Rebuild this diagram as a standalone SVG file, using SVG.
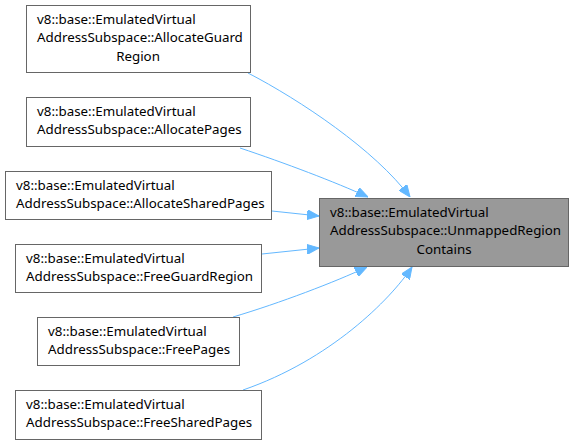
<svg xmlns="http://www.w3.org/2000/svg" width="574" height="445" viewBox="0 0 574 445">
<defs>
<style>
.n rect{fill:#ffffff;stroke:#666666;stroke-width:1}
.c rect{fill:#999999;stroke:#666666;stroke-width:1}
text{font-family:"Noto Sans","DejaVu Sans",sans-serif;font-size:13.33px;fill:#000000}
.e path{fill:none;stroke:#63b8ff;stroke-width:1}
</style>
<marker id="ah" viewBox="0 0 12 10" refX="12" refY="5" markerWidth="12" markerHeight="10" markerUnits="userSpaceOnUse" orient="auto">
<path d="M0,0 L12,5 L0,10 Z" fill="#63b8ff" stroke="#63b8ff" stroke-width="1"/>
</marker>
</defs>
<rect width="574" height="445" fill="#ffffff"/>
<g id="edges" class="e">
<path d="M248,73 C300,100 375,150 410,197" marker-end="url(#ah)"/>
<path d="M240,148 C285,163 335,182 368,197" marker-end="url(#ah)"/>
<path d="M272,211 L319,216" marker-end="url(#ah)"/>
<path d="M262,254 L319,248" marker-end="url(#ah)"/>
<path d="M233,317 C280,303 335,282 367,267" marker-end="url(#ah)"/>
<path d="M243,390 C330,360 390,300 412,267" marker-end="url(#ah)"/>
</g>
<g id="node-target" class="c">
<rect x="319.5" y="198.5" width="249" height="68"/>
<text x="330" y="216.5">v8::base::EmulatedVirtual</text>
<text x="330" y="235">AddressSubspace::UnmappedRegion</text>
<text x="444" y="253.5" text-anchor="middle">Contains</text>
</g>
<g id="node-allocate-guard-region" class="n">
<rect x="26.5" y="5.5" width="224" height="67"/>
<text x="37" y="23.5">v8::base::EmulatedVirtual</text>
<text x="37" y="42">AddressSubspace::AllocateGuard</text>
<text x="138" y="60.5" text-anchor="middle">Region</text>
</g>
<g id="node-allocate-pages" class="n">
<rect x="26.5" y="97.5" width="224" height="49"/>
<text x="37" y="115.5">v8::base::EmulatedVirtual</text>
<text x="37" y="134">AddressSubspace::AllocatePages</text>
</g>
<g id="node-allocate-shared-pages" class="n">
<rect x="5.5" y="171.5" width="266" height="48"/>
<text x="16" y="189.5">v8::base::EmulatedVirtual</text>
<text x="16" y="208">AddressSubspace::AllocateSharedPages</text>
</g>
<g id="node-free-guard-region" class="n">
<rect x="15.5" y="244.5" width="246" height="48"/>
<text x="26" y="262.5">v8::base::EmulatedVirtual</text>
<text x="26" y="281">AddressSubspace::FreeGuardRegion</text>
</g>
<g id="node-free-pages" class="n">
<rect x="37.5" y="317.5" width="202" height="48"/>
<text x="48" y="335.5">v8::base::EmulatedVirtual</text>
<text x="48" y="354">AddressSubspace::FreePages</text>
</g>
<g id="node-free-shared-pages" class="n">
<rect x="15.5" y="390.5" width="246" height="49"/>
<text x="26" y="408.5">v8::base::EmulatedVirtual</text>
<text x="26" y="427">AddressSubspace::FreeSharedPages</text>
</g>
</svg>
